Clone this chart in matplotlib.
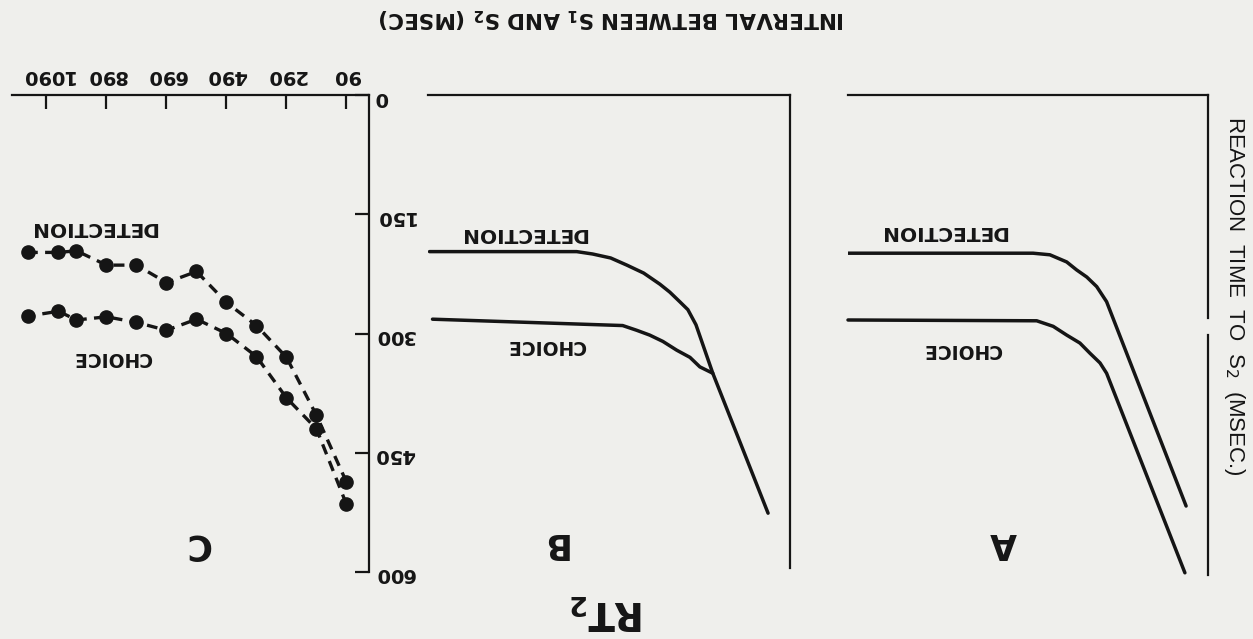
import matplotlib.pyplot as plt

W, H = 1253, 639

# panel C: measured points (interval S1-S2 in msec, RT2 in msec)
interval_ms = [90, 190, 290, 390, 490, 590, 690, 790, 890, 990, 1050, 1150]
detection_rt = [487, 403, 330, 290, 261, 222, 236, 214, 214, 196, 198, 198]
choice_rt = [515, 420, 381, 329, 300, 282, 296, 286, 279, 283, 272, 278]
tick_ms = [90, 290, 490, 690, 890, 1090]
rt_ticks = [0, 150, 300, 450, 600]

# panel A: predicted curves (parallel)
a_det_x = [1200, 583, 527, 471, 438, 404, 371, 338, 73]
a_det_y = [199, 199, 201, 210, 220, 229, 241, 260, 517]
a_cho_x = [1200, 571, 516, 471, 427, 393, 360, 338, 77]
a_cho_y = [283, 284, 291, 302, 312, 325, 337, 350, 601]

# panel B: predicted curves (converging)
b_det_x = [1200, 710, 657, 597, 543, 487, 433, 400, 367, 340, 313, 257, 73]
b_det_y = [197, 197, 200, 205, 214, 224, 238, 248, 260, 270, 289, 350, 526]
b_cho_x = [1190, 557, 510, 467, 423, 377, 333, 300, 257]
b_cho_y = [282, 290, 296, 302, 310, 321, 330, 342, 350]

BG = "#efefec"
INK = "#151515"

fig = plt.figure(figsize=(W / 100, H / 100), dpi=100, facecolor=BG)


def px_axes(left, top, right, bottom):
    return fig.add_axes([left / W, 1 - bottom / H, (right - left) / W, (bottom - top) / H])


def ftext(x, y, s, **kw):
    kw.setdefault("ha", "center")
    kw.setdefault("va", "center")
    kw.setdefault("color", INK)
    fig.text(x / W, 1 - y / H, s, **kw)


def setup(ax, xlim):
    # the scan is upside down: both axes run reversed, spines on top/right
    ax.set_facecolor(BG)
    ax.set_xlim(*xlim)
    ax.set_ylim(600, 0)
    for side in ("left", "bottom"):
        ax.spines[side].set_visible(False)
    for side in ("top", "right"):
        ax.spines[side].set_linewidth(1.6)
        ax.spines[side].set_color(INK)


# ---- panel C (data)
axC = px_axes(12, 95, 369, 572)
setup(axC, (1205, 15))
axC.xaxis.tick_top()
axC.yaxis.tick_right()
axC.set_xticks(tick_ms)
axC.set_xticklabels([str(t) for t in tick_ms], rotation=180, fontsize=14,
                    fontweight="bold", color=INK)
axC.set_yticks(rt_ticks)
axC.set_yticklabels([str(t) for t in rt_ticks], rotation=180, fontsize=14,
                    fontweight="bold", color=INK)
axC.tick_params(axis="both", direction="in", length=10, width=1.6, color=INK)
axC.tick_params(axis="x", pad=7)
axC.tick_params(axis="y", pad=4)
for vals in (detection_rt, choice_rt):
    axC.plot(interval_ms, vals, color=INK, lw=2.4, ls=(0, (3.2, 2.2)),
             marker="o", ms=9.5, mfc=INK, mec=INK, clip_on=False)

# ---- panel B (converging)
axB = px_axes(428, 95, 790, 572)
setup(axB, (1205, 0))
axB.set_xticks([])
axB.set_yticks([])
axB.spines["right"].set_bounds(0, 595)
axB.plot(b_det_x, b_det_y, color=INK, lw=2.5, solid_capstyle="round", solid_joinstyle="round")
axB.plot(b_cho_x, b_cho_y, color=INK, lw=2.5, solid_capstyle="round", solid_joinstyle="round")

# ---- panel A (parallel)
axA = px_axes(848, 95, 1208, 572)
setup(axA, (1200, 0))
axA.set_xticks([])
axA.set_yticks([])
axA.spines["right"].set_visible(False)
# right axis line has a small break in the scan
axA.plot([0, 0], [0, 280], color=INK, lw=1.6, clip_on=False)
axA.plot([0, 0], [302, 604], color=INK, lw=1.6, clip_on=False)
axA.plot(a_det_x, a_det_y, color=INK, lw=2.5, solid_capstyle="round", solid_joinstyle="round")
axA.plot(a_cho_x, a_cho_y, color=INK, lw=2.5, solid_capstyle="round",
         solid_joinstyle="round", clip_on=False)

# ---- labels (all upside down like the scan)
ftext(612, 18, r"INTERVAL BETWEEN S$_\mathbf{1}$ AND S$_\mathbf{2}$ (MSEC)",
      rotation=180, fontsize=15.5, fontweight="bold")
ftext(607, 612, r"RT$_\mathbf{2}$", rotation=180, fontsize=28, fontweight="bold")
ftext(1235, 296, r"REACTION  TIME  TO  S$_2$  (MSEC.)", rotation=270, fontsize=16,
      family="Liberation Sans")

for x, y, s in [(1003, 543, "A"), (553, 543, "B"), (197, 545, "C")]:
    ftext(x, y, s, rotation=180, fontsize=25, fontweight="bold")
for x, y in [(943, 232), (523, 234), (93, 228)]:
    ftext(x, y, "DETECTION", rotation=180, fontsize=14.5, fontweight="bold")
for x, y in [(963, 350), (547, 346), (113, 357)]:
    ftext(x, y, "CHOICE", rotation=180, fontsize=13.5, fontweight="bold")

fig.savefig("out.png", dpi=100, facecolor=BG)
